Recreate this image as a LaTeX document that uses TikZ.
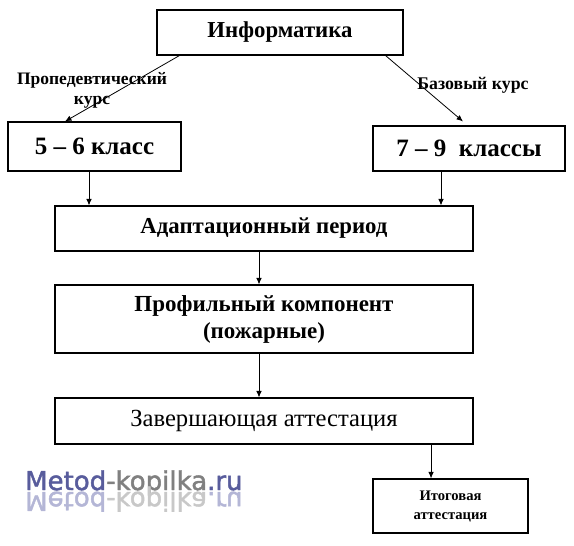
\documentclass[tikz,border=0pt]{standalone}
\usepackage{fontspec}
\setmainfont{Liberation Serif}
\newfontfamily\wmfont[FakeBold=1.8]{DejaVu Sans}
\usepackage{tikz}
\usetikzlibrary{arrows.meta}

\definecolor{wmblue}{RGB}{88,92,156}
\definecolor{wmgray}{RGB}{128,128,128}
\definecolor{wmblueL}{RGB}{180,182,214}
\definecolor{wmgrayL}{RGB}{200,200,200}

\begin{document}
\begin{tikzpicture}[x=1pt,y=-1pt,>={Latex[length=6.5pt,width=5.5pt]},line join=miter,
  box/.style={draw,line width=1.1pt,inner sep=0pt,align=center,font=\bfseries},
  link/.style={->,line width=0.8pt}]
  \useasboundingbox (0,0) rectangle (574,546);

  % boxes
  \node[box,minimum width=246,minimum height=45,font=\bfseries\fontsize{22.8}{26}\selectfont]
    (info) at (280,32.5) {Информатика};
  \node[box,minimum width=173,minimum height=49,font=\bfseries\fontsize{25}{30}\selectfont]
    (g56) at (94.5,146.5) {5 – 6 класс};
  \node[box,minimum width=192,minimum height=45,font=\bfseries\fontsize{25}{30}\selectfont]
    (g79) at (469,148.5) {7 – 9~ классы};
  \node[box,minimum width=418,minimum height=45,font=\bfseries\fontsize{22.8}{26}\selectfont]
    (adapt) at (264,228.5) {Адаптационный период};
  \node[box,minimum width=418,minimum height=68,font=\bfseries\fontsize{23}{27}\selectfont]
    (prof) at (264,319) {Профильный компонент\\(пожарные)};
  \node[box,minimum width=418,minimum height=46,font=\fontsize{24.6}{28}\selectfont]
    (final) at (264,421) {Завершающая аттестация};
  \node[box,minimum width=155,minimum height=54,font=\bfseries\fontsize{14.6}{19}\selectfont]
    (itog) at (450.5,506) {Итоговая\\аттестация};

  % labels of the two courses
  \node[align=center,font=\bfseries\fontsize{17.5}{20}\selectfont] (lblProp) at (92,90)
    {Пропедевтический\\курс};
  \node[font=\bfseries\fontsize{17.8}{20}\selectfont] (lblBase) at (473,85) {Базовый курс};

  % connectors
  \draw[link] ([xshift=23pt]info.south west) -- ([xshift=-29.5pt]g56.north);
  \draw[link] ([xshift=-18pt]info.south east) -- ([xshift=-6pt,yshift=4pt]g79.north);
  \draw[link] ([xshift=-5.5pt]g56.south) -- ([xshift=-5.5pt]g56.south |- adapt.north);
  \draw[link] ([xshift=-28pt]g79.south) -- ([xshift=-28pt]g79.south |- adapt.north);
  \draw[link] ([xshift=-5pt]adapt.south) -- ([xshift=-5pt]prof.north);
  \draw[link] ([xshift=-5pt]prof.south) -- ([xshift=-5pt]final.north);
  \draw[link] ([xshift=-42.5pt]final.south east) -- ([xshift=-42.5pt]final.south east |- itog.north);

  % watermark
  \node[anchor=base west,inner sep=0pt,font=\wmfont\fontsize{26}{26}\selectfont] (wm) at (25,490)
    {\textcolor{wmblue}{Metod}\textcolor{wmgray}{-kopilka}\textcolor{wmblue}{.ru}};
  \node[anchor=base west,inner sep=0pt,yscale=-1,font=\wmfont\fontsize{26}{26}\selectfont] (wmr) at (25,492)
    {\textcolor{wmblueL}{Metod}\textcolor{wmgrayL}{-kopilka}\textcolor{wmblueL}{.ru}};
\end{tikzpicture}
\end{document}
